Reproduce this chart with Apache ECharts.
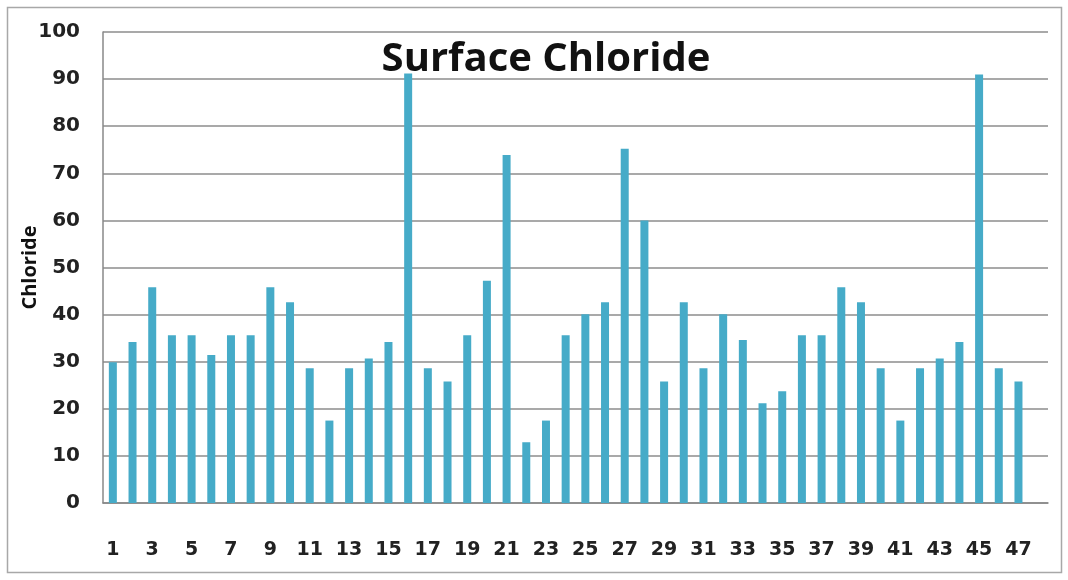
<!DOCTYPE html>
<html>
<head>
<meta charset="utf-8">
<script src="https://cdn.jsdelivr.net/npm/echarts@6/dist/echarts.min.js"></script>
<style>
html,body{margin:0;padding:0;background:#fff;}
#chart{width:1068px;height:580px;}
</style>
</head>
<body>
<div id="chart"></div>
<script>
const titleText = 'Surface Chloride';
const yAxisName = 'Chloride';
// 48 category slots (the last one is empty in the original chart)
const categories = ['1','2','3','4','5','6','7','8','9','10','11','12','13','14','15','16','17','18','19','20','21','22','23','24','25','26','27','28','29','30','31','32','33','34','35','36','37','38','39','40','41','42','43','44','45','46','47','48'];
const chloride = [29.9,34.2,45.8,35.6,35.6,31.4,35.6,35.6,45.8,42.6,28.6,17.5,28.6,30.7,34.2,91.2,28.6,25.8,35.6,47.2,73.9,12.9,17.5,35.6,40.1,42.6,75.2,60.0,25.8,42.6,28.6,40.1,34.6,21.2,23.7,35.6,35.6,45.8,42.6,28.6,17.5,28.6,30.7,34.2,91.0,28.6,25.8,null];

const chart = echarts.init(document.getElementById('chart'), null, {renderer:'canvas'});
const titleFont = '"Open Sans", "DejaVu Sans", sans-serif';
const labelFont = '"DejaVu Sans", sans-serif';
chart.setOption({
  animation:false,
  backgroundColor:'#ffffff',
  graphic:[{
    type:'rect', z:-1, silent:true,
    shape:{x:7.5,y:7.5,width:1054,height:565},
    style:{fill:'#ffffff',stroke:'#a8a8a8',lineWidth:1.5}
  }],
  title:{
    text:titleText,
    left:541, top:35, textAlign:'center',
    textStyle:{fontFamily:titleFont,fontWeight:'bold',fontSize:40,color:'#111'}
  },
  grid:{left:103,right:20,top:32,bottom:77,containLabel:false},
  xAxis:{
    type:'category',
    data:categories,
    axisLine:{lineStyle:{color:'#888',width:1.5}},
    axisTick:{show:false},
    axisLabel:{interval:1,margin:38,fontFamily:labelFont,fontWeight:'bold',fontSize:19,color:'#222'}
  },
  yAxis:{
    type:'value',min:0,max:100,interval:10,
    name:yAxisName,nameLocation:'middle',nameGap:63,nameMoveOverlap:false,
    nameTextStyle:{fontFamily:titleFont,fontWeight:'bold',fontSize:20,color:'#111'},
    axisLine:{show:true,lineStyle:{color:'#888',width:1.5}},
    axisTick:{show:false},
    splitLine:{lineStyle:{color:'#8c8c8c',width:1.5}},
    axisLabel:{margin:23,fontFamily:labelFont,fontWeight:'bold',fontSize:20,color:'#222'}
  },
  series:[{
    type:'bar',
    data:chloride,
    barWidth:8,
    itemStyle:{color:'#46abc8'}
  }]
});
</script>
</body>
</html>
